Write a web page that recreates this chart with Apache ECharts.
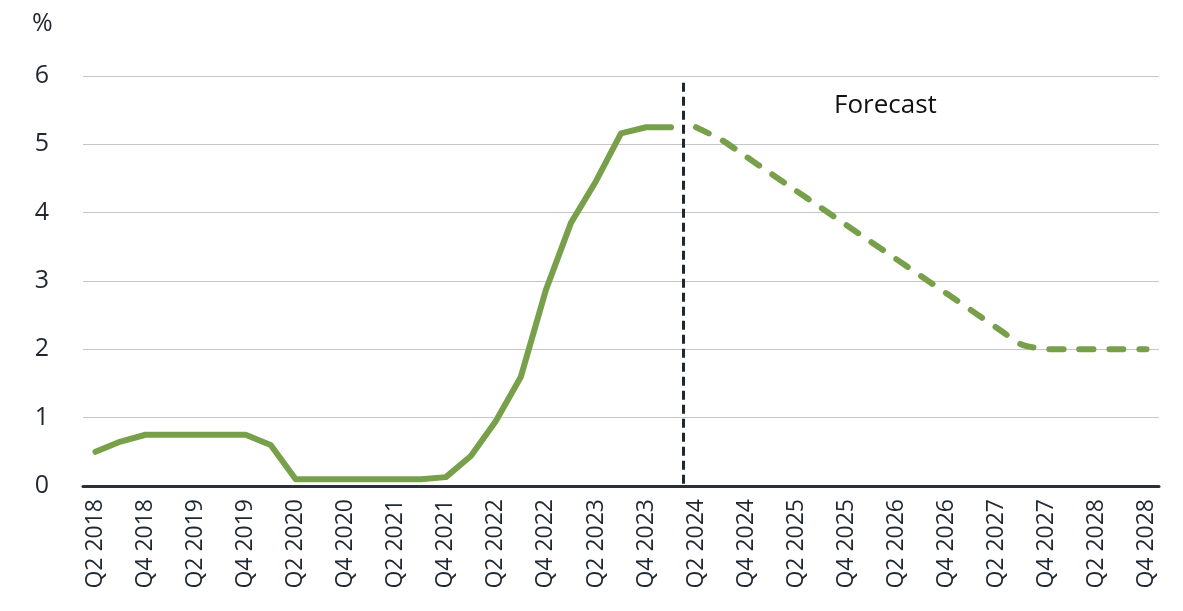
<!DOCTYPE html>
<html>
<head>
<meta charset="utf-8">
<script src="https://cdn.jsdelivr.net/npm/echarts@6/dist/echarts.min.js"></script>
<style>
  html, body { margin: 0; padding: 0; background: #fff; }
  #chart { width: 1183px; height: 611px; }
</style>
</head>
<body>
<div id="chart"></div>
<script>
// quarters Q2 2018 .. Q4 2028
const quarters = [
    'Q2 2018', 'Q3 2018', 'Q4 2018',
    'Q1 2019', 'Q2 2019', 'Q3 2019', 'Q4 2019',
    'Q1 2020', 'Q2 2020', 'Q3 2020', 'Q4 2020',
    'Q1 2021', 'Q2 2021', 'Q3 2021', 'Q4 2021',
    'Q1 2022', 'Q2 2022', 'Q3 2022', 'Q4 2022',
    'Q1 2023', 'Q2 2023', 'Q3 2023', 'Q4 2023',
    'Q1 2024', 'Q2 2024', 'Q3 2024', 'Q4 2024',
    'Q1 2025', 'Q2 2025', 'Q3 2025', 'Q4 2025',
    'Q1 2026', 'Q2 2026', 'Q3 2026', 'Q4 2026',
    'Q1 2027', 'Q2 2027', 'Q3 2027', 'Q4 2027',
    'Q1 2028', 'Q2 2028', 'Q3 2028', 'Q4 2028',
]

// actual rate, Q2 2018 .. Q1 2024
const actual = [
    0.5, 0.65, 0.75,
    0.75, 0.75, 0.75, 0.75,
    0.6, 0.1, 0.1, 0.1,
    0.1, 0.1, 0.1, 0.13,
    0.44, 0.95, 1.6, 2.87,
    3.85, 4.46, 5.16, 5.25,
    5.25,
]

// forecast, Q2 2024 .. Q4 2028
const forecast = [
    5.25, 5.07, 4.82,
    4.57, 4.32, 4.07, 3.82,
    3.57, 3.32, 3.07, 2.82,
    2.57, 2.32, 2.07, 2.0,
    2.0, 2.0, 2.0, 2.0,
]

const yTicks = [0, 1, 2, 3, 4, 5, 6]
const forecastSplit = 23.5 // between Q1 2024 and Q2 2024

const green = '#78a04a'
const ink = '#1f2731'

const actualData = quarters.map((q, i) => (i < actual.length ? actual[i] : '-'))
const forecastData = quarters.map((q, i) => (i >= actual.length ? forecast[i - actual.length] : '-'))

const chart = echarts.init(document.getElementById('chart'))

chart.setOption({
    animation: false,
    title: {
        text: '%',
        left: 27,
        top: 6,
        textStyle: { fontFamily: 'Open Sans', fontSize: 25, fontWeight: 'normal', color: ink },
    },
    graphic: [
        {
            type: 'text',
            left: 834,
            top: 93,
            style: { text: 'Forecast', font: '26px "Open Sans"', fill: '#111' },
        },
    ],
    grid: { left: 83, right: 24, top: 76, bottom: 125 },
    xAxis: [
        {
            type: 'category',
            data: quarters,
            boundaryGap: true,
            axisLine: { lineStyle: { color: '#2a3038', width: 3 } },
            axisTick: { show: false },
            axisLabel: {
                interval: 1,
                rotate: 90,
                margin: 13,
                fontFamily: 'Open Sans',
                fontSize: 23,
                color: ink,
            },
        },
        {
            type: 'value',
            min: -0.5,
            max: quarters.length - 0.5,
            show: false,
        },
    ],
    yAxis: {
        type: 'value',
        min: yTicks[0],
        max: yTicks[yTicks.length - 1],
        interval: 1,
        axisLine: { show: false },
        axisTick: { show: false },
        axisLabel: { margin: 34, fontFamily: 'Open Sans', fontSize: 25, color: ink },
        splitLine: { lineStyle: { color: '#c6c6c6', width: 1 } },
    },
    series: [
        {
            type: 'line',
            data: actualData,
            symbol: 'none',
            lineStyle: { color: green, width: 6, cap: 'round', join: 'round' },
            z: 3,
        },
        {
            type: 'line',
            data: forecastData,
            symbol: 'none',
            smooth: 0.15,
            lineStyle: { color: green, width: 6, type: [14, 16], cap: 'round', join: 'round' },
            z: 3,
        },
        {
            type: 'line',
            xAxisIndex: 1,
            data: [],
            markLine: {
                silent: true,
                symbol: 'none',
                label: { show: false },
                lineStyle: { color: ink, width: 3, type: [9, 5] },
                data: [[{ coord: [forecastSplit, 5.9] }, { coord: [forecastSplit, 0] }]],
            },
            z: 4,
        },
    ],
})
</script>
</body>
</html>
